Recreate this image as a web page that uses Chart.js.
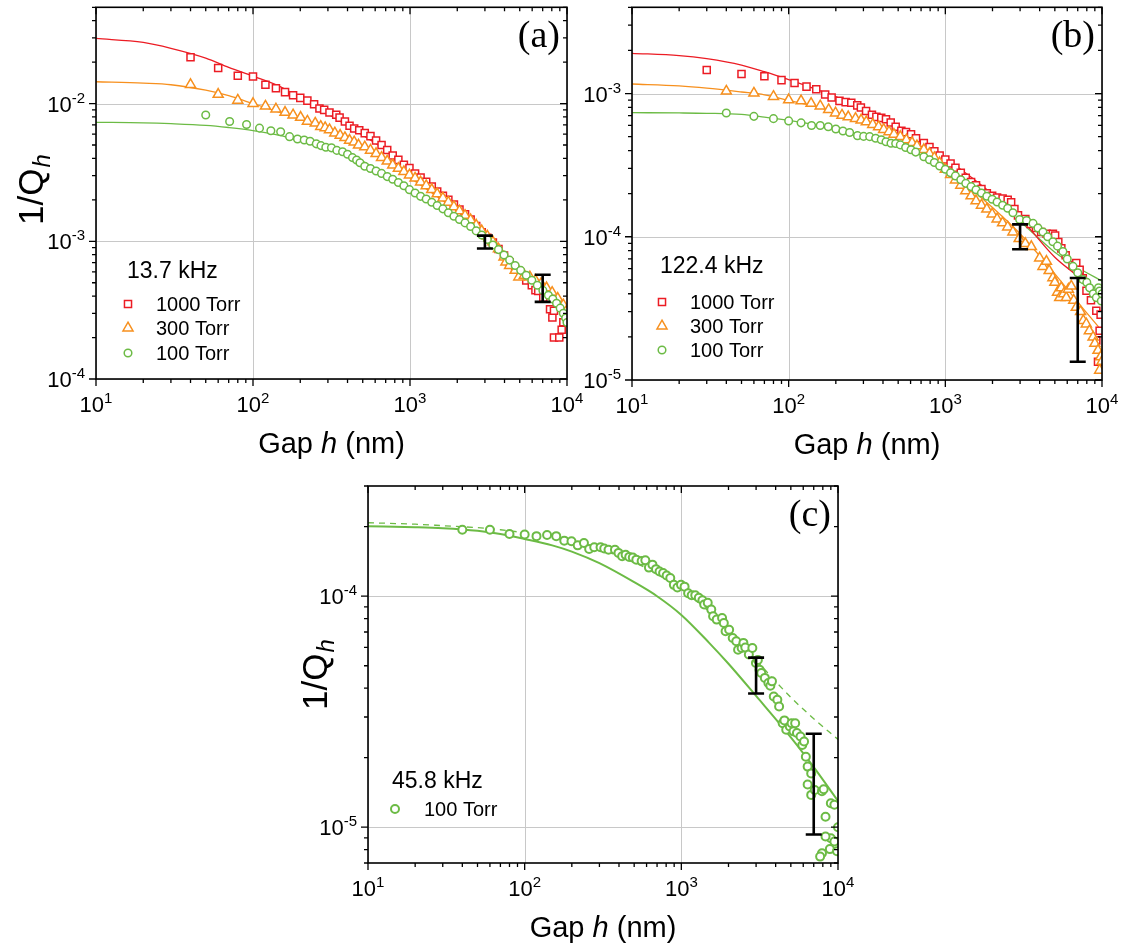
<!DOCTYPE html>
<html>
<head>
<meta charset="utf-8">
<script src="https://cdn.jsdelivr.net/npm/chart.js@4.4.1/dist/chart.umd.min.js"></script>
<style>
  html, body { margin: 0; padding: 0; background: #fff; }
  #wrap { position: relative; width: 1125px; height: 946px; }
  #wrap canvas { position: absolute; left: 0; top: 0; }
</style>
</head>
<body>
<div id="wrap">
  <canvas id="chartA" width="1125" height="946"></canvas>
  <canvas id="chartB" width="1125" height="946"></canvas>
  <canvas id="chartC" width="1125" height="946"></canvas>
</div>
<script>
// ---- data: gap h (nm) vs 1/Q_h ----

// (a) 13.7 kHz
const gapA1000 = [40, 60, 80, 100, 120, 140, 160, 180, 200, 222,
  245, 265, 284, 307, 339, 356, 385, 412, 441, 475,
  515, 560, 608, 659, 716, 776, 843, 914, 992, 1077,
  1168, 1268, 1376, 1490, 1620, 1755, 1904, 2066, 2242, 2433,
  2640, 2864, 3108, 3372, 3660, 3970, 4310, 4675, 5070, 5500,
  5970, 6295, 6560, 7060, 7800, 8070, 8260, 8260, 8930, 9250,
  9480];
const invQA1000 = [0.0217, 0.0181, 0.0159, 0.0157, 0.0137, 0.0129, 0.0121, 0.0115, 0.0110, 0.0105,
  0.0099, 0.0092, 0.0090, 0.0086, 0.0083, 0.0079, 0.0074, 0.0069, 0.0066, 0.0064,
  0.0061, 0.0058, 0.0054, 0.0050, 0.0046, 0.0042, 0.0039, 0.0036, 0.0034, 0.0031,
  0.0029, 0.0027, 0.0025, 0.0023, 0.00214, 0.0020, 0.00185, 0.0017, 0.00157, 0.00144,
  0.00129, 0.00116, 0.00106, 0.00098, 0.00088, 0.000787, 0.000705, 0.00063, 0.000571, 0.00052,
  0.00048, 0.000442, 0.000435, 0.00039, 0.000321, 0.00028, 0.000313, 0.0002, 0.0002, 0.000228,
  0.000258];

const gapA300 = [40, 60, 80, 100, 120, 140, 160, 180, 201, 222,
  249, 270, 288, 307, 332, 359, 385, 412, 441, 470,
  515, 560, 608, 659, 716, 776, 843, 914, 992, 1077,
  1168, 1268, 1376, 1490, 1620, 1755, 1904, 2066, 2242, 2433,
  2640, 2864, 3108, 3372, 3660, 3970, 4080, 4310, 4675, 4935,
  5350, 5800, 6295, 6840, 7410, 8040, 8730, 9470, 9880];
const invQA300 = [0.01374, 0.01166, 0.01057, 0.0100, 0.00957, 0.00912, 0.00863, 0.00826, 0.00794, 0.00744,
  0.0072, 0.00681, 0.00667, 0.00645, 0.00611, 0.00588, 0.00565, 0.00541, 0.00526, 0.00499,
  0.00484, 0.00458, 0.00433, 0.00406, 0.00382, 0.00357, 0.00338, 0.0032, 0.00303, 0.00287,
  0.00269, 0.00253, 0.00237, 0.00221, 0.00206, 0.00192, 0.00178, 0.00166, 0.00154, 0.00143,
  0.00131, 0.00119, 0.00109, 0.00099, 0.00088, 0.000766, 0.000705, 0.000667, 0.000615, 0.00055,
  0.000566, 0.00055, 0.00052, 0.000493, 0.000459, 0.000425, 0.000385, 0.000345, 0.000309];

const gapA100 = [50, 71, 91, 110, 130, 150, 171, 192, 212, 231,
  253, 271, 291, 316, 342, 372, 400, 430, 457, 480,
  515, 560, 608, 659, 716, 776, 843, 914, 992, 1077,
  1168, 1268, 1376, 1490, 1620, 1755, 1904, 2066, 2242, 2433,
  2640, 2864, 3108, 3372, 3660, 3970, 4310, 4675, 5070, 5500,
  5970, 6470, 7020, 7610, 8120, 8580, 9050, 9470, 9800, 10000];
const invQA100 = [0.00826, 0.0074, 0.00705, 0.00663, 0.00634, 0.00624, 0.00575, 0.00553, 0.00544, 0.00532,
  0.0051, 0.00495, 0.00482, 0.00477, 0.00457, 0.00447, 0.00428, 0.00405, 0.00389, 0.00372,
  0.00351, 0.00338, 0.00324, 0.00311, 0.00295, 0.00282, 0.00267, 0.00253, 0.00237, 0.00224,
  0.00212, 0.00203, 0.00192, 0.00182, 0.00172, 0.00161, 0.00152, 0.00144, 0.00136, 0.00128,
  0.00119, 0.00111, 0.00103, 0.00094, 0.00087, 0.000796, 0.00073, 0.000667, 0.000615, 0.000566,
  0.000521, 0.00048, 0.00044, 0.000406, 0.000381, 0.000355, 0.000327, 0.0003, 0.000277, 0.000257];

// model curves share one gap grid
const fitGap = [10, 20, 30, 50, 70, 100, 150, 200, 300, 500, 700, 1000, 1500, 2000, 3000, 5000, 7000, 10000];
const fitA1000 = [0.0297, 0.0278, 0.0252, 0.0214, 0.0183, 0.0158, 0.0132, 0.0109, 0.0084, 0.0059, 0.0046, 0.00338, 0.0023, 0.00166, 0.00116, 0.000597, 0.00043, 0.00033];
const fitA300 = [0.0144, 0.01406, 0.0137, 0.0125, 0.0114, 0.0100, 0.0086, 0.0077, 0.0064, 0.00485, 0.0039, 0.0029, 0.0021, 0.00165, 0.00115, 0.00061, 0.00044, 0.00031];
const fitA100 = [0.00731, 0.00725, 0.00715, 0.00695, 0.0067, 0.00637, 0.00585, 0.00535, 0.0047, 0.0038, 0.0030, 0.00224, 0.0018, 0.00146, 0.00108, 0.00061, 0.00044, 0.0003];

const errGap = [3000, 7000];
const errALow = [8.87e-4, 3.63e-4];
const errAHigh = [1.10e-3, 5.71e-4];

// (b) 122.4 kHz
const gapB1000 = [30, 50, 70, 90, 109, 130, 150, 171, 188, 211,
  231, 251, 274, 289, 312, 340, 363, 390, 418, 448,
  482, 524, 561, 604, 650, 729, 792, 851, 920, 1000,
  1080, 1160, 1255, 1350, 1460, 1570, 1700, 1840, 1990, 2140,
  2320, 2500, 2630, 2760, 2910, 3240, 3500, 3790, 4090, 4430,
  4860, 5020, 5260, 5500, 5860, 6480, 6850, 7200, 7540, 7960,
  8500, 9200, 9660, 9200, 9430, 9800];
const invQB1000 = [1.46e-3, 1.37e-3, 1.32e-3, 1.24e-3, 1.185e-3, 1.117e-3, 1.07e-3, 9.84e-4, 9.38e-4, 8.89e-4,
  8.71e-4, 8.62e-4, 8.27e-4, 8.0e-4, 7.55e-4, 7.12e-4, 6.87e-4, 6.76e-4, 6.62e-4, 6.28e-4,
  5.86e-4, 5.5e-4, 5.38e-4, 5.19e-4, 4.87e-4, 4.51e-4, 4.23e-4, 3.95e-4, 3.69e-4, 3.46e-4,
  3.25e-4, 3.03e-4, 2.8e-4, 2.58e-4, 2.41e-4, 2.29e-4, 2.15e-4, 2.01e-4, 1.93e-4, 1.88e-4,
  1.85e-4, 1.81e-4, 1.74e-4, 1.56e-4, 1.41e-4, 1.33e-4, 1.23e-4, 1.15e-4, 1.08e-4, 1.05e-4,
  1.05e-4, 1.02e-4, 9.18e-5, 8.3e-5, 7.43e-5, 6.34e-5, 6.55e-5, 5.89e-5, 5.13e-5, 4.2e-5,
  3.6e-5, 3.04e-5, 2.21e-5, 1.89e-5, 1.34e-5, 2.86e-5];

const gapB300 = [40, 60, 80, 100, 120, 139, 159, 180, 199, 219,
  240, 267, 290, 313, 344, 375, 404, 437, 470, 516,
  564, 613, 659, 729, 792, 851, 920, 1000, 1080, 1160,
  1255, 1350, 1460, 1570, 1700, 1840, 1990, 2140, 2320, 2500,
  2700, 2960, 3240, 3540, 4000, 4200, 4420, 4600, 4860, 5000,
  5200, 5370, 5500, 5700, 5920, 6100, 6370, 6600, 6850, 7300,
  7600, 7940, 8300, 8770, 9000, 9430, 9660, 9800, 10000];
const invQB300 = [1.038e-3, 1.005e-3, 9.53e-4, 9.03e-4, 8.89e-4, 8.53e-4, 8.18e-4, 7.71e-4, 7.31e-4, 7.05e-4,
  6.87e-4, 6.69e-4, 6.52e-4, 6.34e-4, 6.08e-4, 5.86e-4, 5.61e-4, 5.41e-4, 5.19e-4, 5.0e-4,
  4.74e-4, 4.54e-4, 4.31e-4, 4.06e-4, 3.81e-4, 3.56e-4, 3.28e-4, 2.95e-4, 2.72e-4, 2.49e-4,
  2.29e-4, 2.09e-4, 1.93e-4, 1.78e-4, 1.66e-4, 1.56e-4, 1.44e-4, 1.33e-4, 1.25e-4, 1.17e-4,
  1.08e-4, 9.7e-5, 8.96e-5, 8.53e-5, 7.1e-5, 6.2e-5, 6.73e-5, 5.8e-5, 5.17e-5, 4.8e-5,
  4.1e-5, 3.76e-5, 4.4e-5, 4.0e-5, 3.76e-5, 4.3e-5, 4.52e-5, 3.6e-5, 3.21e-5, 3.0e-5,
  2.6e-5, 2.46e-5, 2.2e-5, 1.99e-5, 1.8e-5, 1.61e-5, 1.17e-5, 1.45e-5, 1.35e-5];

const gapB100 = [40, 60, 80, 100, 120, 140, 159, 179, 200, 222,
  245, 275, 301, 329, 359, 390, 418, 450, 482, 516,
  558, 604, 647, 729, 792, 851, 920, 1000, 1080, 1160,
  1255, 1350, 1460, 1570, 1700, 1840, 1990, 2140, 2320, 2500,
  2700, 2980, 3300, 3630, 3900, 4200, 4500, 4860, 5200, 5630,
  6000, 6530, 7000, 7570, 8000, 8340, 8800, 9200, 9500, 9660,
  9900, 10000];
const invQB100 = [7.31e-4, 6.93e-4, 6.68e-4, 6.44e-4, 6.24e-4, 5.98e-4, 5.98e-4, 5.86e-4, 5.65e-4, 5.47e-4,
  5.35e-4, 5.08e-4, 5.02e-4, 5.0e-4, 4.87e-4, 4.76e-4, 4.61e-4, 4.5e-4, 4.48e-4, 4.38e-4,
  4.2e-4, 4.05e-4, 3.9e-4, 3.62e-4, 3.45e-4, 3.3e-4, 3.12e-4, 2.96e-4, 2.8e-4, 2.66e-4,
  2.5e-4, 2.36e-4, 2.24e-4, 2.13e-4, 2.02e-4, 1.92e-4, 1.83e-4, 1.75e-4, 1.66e-4, 1.58e-4,
  1.47e-4, 1.32e-4, 1.3e-4, 1.24e-4, 1.15e-4, 1.08e-4, 1.0e-4, 9.24e-5, 8.6e-5, 7.88e-5,
  7.0e-5, 6.21e-5, 5.6e-5, 5.02e-5, 4.8e-5, 4.4e-5, 4.0e-5, 3.76e-5, 4.4e-5, 4.18e-5,
  3.56e-5, 4.0e-5];

const fitB1000 = [1.91e-3, 1.84e-3, 1.75e-3, 1.58e-3, 1.42e-3, 1.25e-3, 1.07e-3, 9.5e-4, 7.9e-4, 5.9e-4, 4.7e-4, 3.55e-4, 2.55e-4, 1.98e-4, 1.35e-4, 7.2e-5, 5.3e-5, 3.7e-5];
const fitB300 = [1.166e-3, 1.13e-3, 1.09e-3, 1.025e-3, 9.8e-4, 8.95e-4, 8.1e-4, 7.35e-4, 6.4e-4, 5.1e-4, 4.2e-4, 3.1e-4, 2.1e-4, 1.6e-4, 1.05e-4, 5.5e-5, 3.5e-5, 2.2e-5];
const fitB100 = [7.35e-4, 7.32e-4, 7.28e-4, 7.15e-4, 6.85e-4, 6.5e-4, 6.05e-4, 5.7e-4, 5.1e-4, 4.3e-4, 3.7e-4, 2.95e-4, 2.25e-4, 1.85e-4, 1.28e-4, 7.8e-5, 6.1e-5, 4.9e-5];

const errBLow = [8.18e-5, 1.34e-5];
const errBHigh = [1.22e-4, 5.16e-5];

// (c) 45.8 kHz, 100 Torr
const gapC100 = [40, 60, 80, 100, 119, 139, 159, 179, 199, 218,
  239, 258, 278, 305, 322, 343, 377, 397, 419, 441,
  465, 490, 516, 558, 589, 621, 654, 689, 726, 765,
  806, 850, 896, 944, 995, 1049, 1105, 1164, 1227, 1293,
  1363, 1399, 1474, 1553, 1595, 1682, 1820, 1867, 1916, 2019,
  2128, 2243, 2302, 2426, 2490, 2560, 2697, 2840, 2993, 3080,
  3154, 3238, 3412, 3595, 3700, 3789, 3890, 4100, 4208, 4434,
  4550, 4673, 4924, 5055, 5200, 5328, 5469, 5763, 5916, 6073,
  6234, 6400, 6744, 6400, 6744, 7107, 7900, 8100, 8325, 9000,
  9480, 10000, 9000, 8325, 8870, 7900, 7690, 9480, 9860];
const invQC100 = [1.94e-4, 1.94e-4, 1.86e-4, 1.85e-4, 1.82e-4, 1.84e-4, 1.82e-4, 1.74e-4, 1.73e-4, 1.66e-4,
  1.70e-4, 1.60e-4, 1.63e-4, 1.63e-4, 1.61e-4, 1.59e-4, 1.59e-4, 1.54e-4, 1.49e-4, 1.51e-4,
  1.48e-4, 1.47e-4, 1.44e-4, 1.42e-4, 1.43e-4, 1.33e-4, 1.37e-4, 1.31e-4, 1.28e-4, 1.26e-4,
  1.23e-4, 1.20e-4, 1.12e-4, 1.09e-4, 1.12e-4, 1.10e-4, 1.03e-4, 1.01e-4, 1.01e-4, 9.84e-5,
  9.61e-5, 9.21e-5, 9.36e-5, 8.75e-5, 8.19e-5, 7.92e-5, 8.05e-5, 7.66e-5, 7.05e-5, 7.16e-5,
  6.59e-5, 6.38e-5, 5.87e-5, 5.97e-5, 6.28e-5, 6.0e-5, 5.59e-5, 5.97e-5, 5.14e-5, 5.3e-5,
  4.81e-5, 4.65e-5, 4.43e-5, 4.21e-5, 4.1e-5, 4.28e-5, 3.68e-5, 3.56e-5, 3.33e-5, 2.82e-5,
  2.9e-5, 2.64e-5, 2.73e-5, 2.82e-5, 2.6e-5, 2.82e-5, 2.56e-5, 2.47e-5, 2.27e-5, 2.35e-5,
  2.02e-5, 1.83e-5, 1.71e-5, 1.53e-5, 1.38e-5, 1.45e-5, 1.43e-5, 1.46e-5, 1.11e-5, 1.27e-5,
  1.25e-5, 1.0e-5, 8.96e-6, 9.12e-6, 8.04e-6, 7.71e-6, 7.46e-6, 8.67e-6, 7.87e-6];

const fitC100 = [2.01e-4, 1.99e-4, 1.97e-4, 1.92e-4, 1.86e-4, 1.77e-4, 1.66e-4, 1.56e-4, 1.39e-4, 1.15e-4, 1.0e-4, 8.3e-5, 6.3e-5, 5.1e-5, 3.7e-5, 2.45e-5, 1.82e-5, 1.3e-5];
const fitC100Dash = [2.08e-4, 2.05e-4, 2.02e-4, 1.98e-4, 1.94e-4, 1.88e-4, 1.8e-4, 1.72e-4, 1.6e-4, 1.4e-4, 1.25e-4, 1.07e-4, 8.6e-5, 7.3e-5, 5.3e-5, 3.65e-5, 2.95e-5, 2.4e-5];

const errCLow = [3.79e-5, 9.3e-6];
const errCHigh = [5.42e-5, 2.54e-5];

// ---- styling ----
const RED = '#ec1c24', ORANGE = '#f7901e', GREEN = '#6cbb45';
const SANS = '"Liberation Sans", Arial, Helvetica, sans-serif';
const SERIF = '"Liberation Serif", "Times New Roman", serif';
const PAGE_W = 1125, PAGE_H = 946;

function pts(xs, ys) {
  return xs.map((x, i) => ({x: x, y: ys[i]}));
}

function markerSet(xs, ys, color, style, radius, width, order) {
  return {
    type: 'scatter',
    data: pts(xs, ys),
    pointStyle: style,
    pointRadius: radius,
    pointBorderWidth: width,
    pointBorderColor: color,
    pointBackgroundColor: '#ffffff',
    clip: 0,
    order: order
  };
}

function curveSet(ys, color, width, dash) {
  return {
    type: 'line',
    data: pts(fitGap, ys),
    borderColor: color,
    borderWidth: width,
    borderDash: dash || [],
    pointRadius: 0,
    fill: false,
    cubicInterpolationMode: 'monotone',
    order: 10
  };
}

function drawMarker(ctx, style, x, y, r, color, lw) {
  ctx.beginPath();
  if (style === 'rect') {
    const h = r * Math.SQRT1_2;
    ctx.rect(x - h, y - h, 2 * h, 2 * h);
  } else if (style === 'triangle') {
    ctx.moveTo(x, y - r);
    ctx.lineTo(x + r * 0.866, y + r * 0.5);
    ctx.lineTo(x - r * 0.866, y + r * 0.5);
    ctx.closePath();
  } else {
    ctx.arc(x, y, r, 0, Math.PI * 2);
  }
  ctx.fillStyle = '#fff';
  ctx.fill();
  ctx.strokeStyle = color;
  ctx.lineWidth = lw;
  ctx.stroke();
}

// "10" with a raised exponent
function drawPow(ctx, exp, x, y, align) {
  ctx.font = '22px ' + SANS;
  const wb = ctx.measureText('10').width;
  ctx.font = '15px ' + SANS;
  const ws = ctx.measureText(exp).width;
  const w = wb + ws;
  const x0 = align === 'right' ? x - w : x - w / 2;
  ctx.textAlign = 'left';
  ctx.textBaseline = 'alphabetic';
  ctx.font = '22px ' + SANS;
  ctx.fillText('10', x0, y);
  ctx.font = '15px ' + SANS;
  ctx.fillText(exp, x0 + wb, y - 9);
}

function logTicks(min, max) {
  const out = [];
  for (let e = Math.floor(Math.log10(min)); e <= Math.ceil(Math.log10(max)); e++) {
    for (let m = 1; m <= 9; m++) {
      const v = m * Math.pow(10, e);
      if (v >= min * 0.999 && v <= max * 1.001) out.push({v: v, major: m === 1, e: e});
    }
  }
  return out;
}

function makeDecor(p) {
  return {
    id: 'decor',
    beforeDatasetsDraw(chart) {
      const {ctx, chartArea: a, scales} = chart;
      ctx.save();
      ctx.strokeStyle = '#c8c8c8';
      ctx.lineWidth = 1;
      ctx.beginPath();
      logTicks(10, 1e4).filter(t => t.major).forEach(t => {
        const px = Math.round(scales.x.getPixelForValue(t.v)) + 0.5;
        ctx.moveTo(px, a.top);
        ctx.lineTo(px, a.bottom);
      });
      logTicks(p.yMin, p.yMax).filter(t => t.major).forEach(t => {
        const py = Math.round(scales.y.getPixelForValue(t.v)) + 0.5;
        ctx.moveTo(a.left, py);
        ctx.lineTo(a.right, py);
      });
      ctx.stroke();
      ctx.restore();
    },
    afterDatasetsDraw(chart) {
      const {ctx, chartArea: a, scales} = chart;
      const xs = scales.x, ys = scales.y;
      ctx.save();

      // error bars
      ctx.strokeStyle = '#000';
      ctx.lineWidth = 2.6;
      ctx.beginPath();
      errGap.forEach((g, i) => {
        const px = xs.getPixelForValue(g);
        const pt = ys.getPixelForValue(p.errHigh[i]);
        const pb = ys.getPixelForValue(p.errLow[i]);
        ctx.moveTo(px, pt); ctx.lineTo(px, pb);
        ctx.moveTo(px - 8, pt); ctx.lineTo(px + 8, pt);
        ctx.moveTo(px - 8, pb); ctx.lineTo(px + 8, pb);
      });
      ctx.stroke();

      // frame and ticks
      ctx.lineWidth = 1.6;
      ctx.strokeRect(a.left, a.top, a.right - a.left, a.bottom - a.top);
      ctx.lineWidth = 1.3;
      ctx.beginPath();
      logTicks(10, 1e4).forEach(t => {
        const px = xs.getPixelForValue(t.v);
        const len = t.major ? 7 : 4;
        ctx.moveTo(px, a.bottom); ctx.lineTo(px, a.bottom + len);
        ctx.moveTo(px, a.top); ctx.lineTo(px, a.top + len);
      });
      logTicks(p.yMin, p.yMax).forEach(t => {
        const py = ys.getPixelForValue(t.v);
        const len = t.major ? 7 : 4;
        ctx.moveTo(a.left, py); ctx.lineTo(a.left - len, py);
        ctx.moveTo(a.right, py); ctx.lineTo(a.right - len, py);
      });
      ctx.stroke();

      // tick labels
      ctx.fillStyle = '#000';
      logTicks(10, 1e4).filter(t => t.major).forEach(t => {
        drawPow(ctx, String(t.e), xs.getPixelForValue(t.v), a.bottom + 33, 'center');
      });
      logTicks(p.yMin, p.yMax).filter(t => t.major).forEach(t => {
        drawPow(ctx, String(t.e), a.left - 11, ys.getPixelForValue(t.v) + 8, 'right');
      });

      // x title
      const parts = [['Gap ', ''], ['h', 'italic '], [' (nm)', '']];
      let tw = 0;
      parts.forEach(s => { ctx.font = s[1] + '29px ' + SANS; tw += ctx.measureText(s[0]).width; });
      let tx = (a.left + a.right) / 2 - tw / 2;
      ctx.textAlign = 'left';
      ctx.textBaseline = 'alphabetic';
      parts.forEach(s => {
        ctx.font = s[1] + '29px ' + SANS;
        ctx.fillText(s[0], tx, a.bottom + 74);
        tx += ctx.measureText(s[0]).width;
      });

      // y title
      if (p.yTitle) {
        ctx.save();
        ctx.translate(p.yTitle.x, p.yTitle.y);
        ctx.rotate(-Math.PI / 2);
        ctx.font = '35px ' + SANS;
        const w1 = ctx.measureText('1/Q').width;
        ctx.font = 'italic 24px ' + SANS;
        const w2 = ctx.measureText('h').width;
        const x0 = -(w1 + w2) / 2;
        ctx.font = '35px ' + SANS;
        ctx.fillText('1/Q', x0, 0);
        ctx.font = 'italic 24px ' + SANS;
        ctx.fillText('h', x0 + w1 + 1, 7);
        ctx.restore();
      }

      // panel tag
      ctx.font = '38px ' + SERIF;
      ctx.textAlign = 'right';
      ctx.fillText(p.tag, a.right - 7, a.top + 40);

      // legend
      const lg = p.legend;
      ctx.textAlign = 'left';
      ctx.textBaseline = 'middle';
      ctx.font = '23px ' + SANS;
      ctx.fillText(lg.title, lg.x, lg.titleY);
      lg.items.forEach(it => {
        drawMarker(ctx, it.style, lg.markerX, it.y, it.r, it.color, it.lw);
        ctx.fillStyle = '#000';
        ctx.font = '20px ' + SANS;
        ctx.fillText(it.label, lg.textX, it.y + 1);
      });

      ctx.restore();
    }
  };
}

function buildChart(p) {
  const a = p.area;
  return new Chart(document.getElementById(p.canvas), {
    type: 'scatter',
    data: { datasets: p.datasets },
    options: {
      responsive: false,
      animation: false,
      devicePixelRatio: 1,
      events: [],
      layout: { padding: { left: a.left, top: a.top, right: PAGE_W - a.right, bottom: PAGE_H - a.bottom } },
      scales: {
        x: { type: 'logarithmic', min: 10, max: 1e4, display: false },
        y: { type: 'logarithmic', min: p.yMin, max: p.yMax, display: false }
      },
      plugins: { legend: { display: false }, tooltip: { enabled: false } }
    },
    plugins: [makeDecor(p)]
  });
}

const SQ = 5, TRI = 5.8, CIR = 3.8, MLW = 1.5;

buildChart({
  canvas: 'chartA',
  area: { left: 96, top: 2, right: 567, bottom: 379 },
  yMin: 1e-4, yMax: 5e-2,
  tag: '(a)',
  yTitle: { x: 43, y: 190 },
  errLow: errALow, errHigh: errAHigh,
  legend: {
    title: '13.7 kHz', x: 127, titleY: 272, markerX: 128, textX: 156,
    items: [
      { label: '1000 Torr', style: 'rect', color: RED, r: SQ, lw: MLW, y: 304 },
      { label: '300 Torr', style: 'triangle', color: ORANGE, r: TRI, lw: MLW, y: 328 },
      { label: '100 Torr', style: 'circle', color: GREEN, r: CIR, lw: MLW, y: 353 }
    ]
  },
  datasets: [
    markerSet(gapA100, invQA100, GREEN, 'circle', CIR, MLW, 1),
    markerSet(gapA300, invQA300, ORANGE, 'triangle', TRI, MLW, 2),
    markerSet(gapA1000, invQA1000, RED, 'rect', SQ, MLW, 3),
    curveSet(fitA1000, RED, 1.3),
    curveSet(fitA300, ORANGE, 1.3),
    curveSet(fitA100, GREEN, 1.3)
  ]
});

buildChart({
  canvas: 'chartB',
  area: { left: 632, top: 2, right: 1102, bottom: 380 },
  yMin: 1e-5, yMax: 4e-3,
  tag: '(b)',
  yTitle: null,
  errLow: errBLow, errHigh: errBHigh,
  legend: {
    title: '122.4 kHz', x: 660, titleY: 267, markerX: 662, textX: 690,
    items: [
      { label: '1000 Torr', style: 'rect', color: RED, r: SQ, lw: MLW, y: 302 },
      { label: '300 Torr', style: 'triangle', color: ORANGE, r: TRI, lw: MLW, y: 326 },
      { label: '100 Torr', style: 'circle', color: GREEN, r: CIR, lw: MLW, y: 350 }
    ]
  },
  datasets: [
    markerSet(gapB100, invQB100, GREEN, 'circle', CIR, MLW, 1),
    markerSet(gapB300, invQB300, ORANGE, 'triangle', TRI, MLW, 2),
    markerSet(gapB1000, invQB1000, RED, 'rect', SQ, MLW, 3),
    curveSet(fitB1000, RED, 1.3),
    curveSet(fitB300, ORANGE, 1.3),
    curveSet(fitB100, GREEN, 1.3)
  ]
});

buildChart({
  canvas: 'chartC',
  area: { left: 368, top: 486, right: 838, bottom: 863 },
  yMin: 7e-6, yMax: 3e-4,
  tag: '(c)',
  yTitle: { x: 327, y: 675 },
  errLow: errCLow, errHigh: errCHigh,
  legend: {
    title: '45.8 kHz', x: 392, titleY: 782, markerX: 395, textX: 424,
    items: [
      { label: '100 Torr', style: 'circle', color: GREEN, r: 4, lw: 2, y: 809 }
    ]
  },
  datasets: [
    markerSet(gapC100, invQC100, GREEN, 'circle', 4, 2, 1),
    curveSet(fitC100, GREEN, 2),
    curveSet(fitC100Dash, GREEN, 1.3, [6, 5])
  ]
});
</script>
</body>
</html>
